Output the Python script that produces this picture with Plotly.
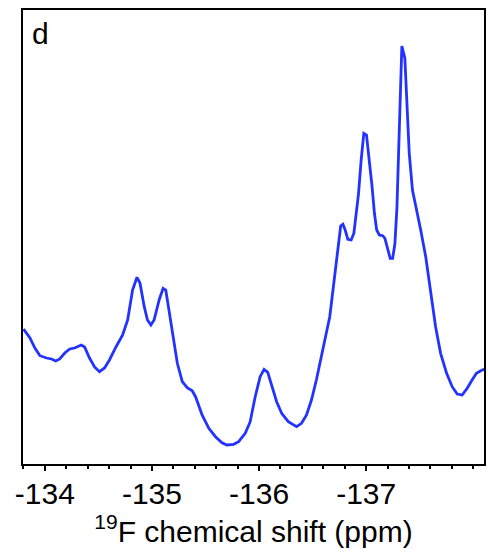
import plotly.graph_objects as go

# 19F chemical shift (ppm) and intensity (arbitrary units)
shift_ppm = [
    -133.801, -133.861, -133.907, -133.954, -134.016, -134.062, -134.102, -134.139,
    -134.186, -134.232, -134.278, -134.340, -134.371, -134.417, -134.464, -134.510,
    -134.557, -134.603, -134.665, -134.726, -134.773, -134.819, -134.860, -134.888,
    -134.928, -134.958, -134.990, -135.020, -135.067, -135.104, -135.129, -135.175,
    -135.206, -135.237, -135.283, -135.329, -135.376, -135.407, -135.468, -135.531,
    -135.593, -135.654, -135.700, -135.763, -135.809, -135.871, -135.917, -135.964,
    -136.010, -136.047, -136.081, -136.124, -136.164, -136.211, -136.273, -136.350,
    -136.396, -136.443, -136.489, -136.535, -136.582, -136.613, -136.660, -136.690,
    -136.721, -136.743, -136.762, -136.783, -136.804, -136.829, -136.860, -136.885,
    -136.906, -136.929, -136.953, -136.978, -137.003, -137.031, -137.055, -137.077,
    -137.098, -137.123, -137.154, -137.175, -137.200, -137.224, -137.247, -137.268,
    -137.287, -137.302, -137.318, -137.333, -137.361, -137.379, -137.402, -137.432,
    -137.472, -137.509, -137.556, -137.602, -137.648, -137.695, -137.751, -137.803,
    -137.850, -137.896, -137.943, -137.989, -138.029, -138.082, -138.105,
]
intensity = [
    135, 126, 116, 108.3, 106, 105, 103, 105,
    111, 115, 116, 119, 117, 106, 97, 92.3,
    96, 104, 117.3, 129, 144, 174, 186.7, 181,
    157.3, 144, 139, 144, 164, 175.7, 174, 144,
    124, 100.7, 82.3, 76.3, 73.3, 67.3, 49, 35.7,
    27.3, 21.3, 19, 19.7, 22.3, 30.7, 42.3, 67.3,
    87.3, 94.7, 91.7, 77.3, 62.3, 50.7, 42.3, 37.3,
    40.7, 49, 64, 84, 107.3, 124, 147.3, 174,
    204, 224, 238, 239.7, 234, 224.7, 224, 230.7,
    247.3, 270.7, 304, 330.7, 329, 304, 277.3, 250.7,
    234, 229, 228.3, 225.7, 215.7, 205.7, 205.7, 220,
    256, 314, 384, 418, 405.7, 357.3, 310.7, 274,
    254, 234, 207.3, 170.7, 137.3, 110.7, 90.7, 77.3,
    70, 69, 75.7, 84, 90.7, 94, 94.7,
]
major_ticks = [-134, -135, -136, -137]
tick_labels = ["-134", "-135", "-136", "-137"]
panel_label = "d"

FONT = "Liberation Sans, Arial, Helvetica, sans-serif"

fig = go.Figure()
fig.add_trace(go.Scatter(
    x=shift_ppm, y=intensity, mode="lines",
    line=dict(color="#2233ff", width=2.8),
    showlegend=False, hoverinfo="skip",
))

fig.update_layout(
    width=488, height=554,
    margin=dict(l=23, r=2, t=10, b=90),
    paper_bgcolor="white", plot_bgcolor="white",
    font=dict(family=FONT, size=30, color="black"),
    xaxis=dict(
        range=[-133.796, -138.1],
        tickmode="array", tickvals=major_ticks, ticktext=tick_labels,
        ticks="outside", ticklen=5, tickwidth=2, tickcolor="black",
        ticklabelstandoff=-3,
        minor=dict(dtick=0.2, tick0=-134, ticks="outside", ticklen=3,
                   tickwidth=2, tickcolor="black", showgrid=False),
        showline=True, linewidth=2, linecolor="black", mirror=True,
        showgrid=False, zeroline=False,
        tickfont=dict(size=30),
        title=dict(text="<sup>19</sup>F chemical shift (ppm)",
                   font=dict(size=30), standoff=6),
    ),
    yaxis=dict(
        range=[0, 454],
        showticklabels=False, ticks="",
        showline=True, linewidth=2, linecolor="black", mirror=True,
        showgrid=False, zeroline=False,
    ),
    annotations=[dict(
        text=panel_label, xref="paper", yref="paper",
        x=0.016, y=0.99, xanchor="left", yanchor="top",
        showarrow=False, font=dict(size=30),
    )],
)

fig.write_html("out.html")
